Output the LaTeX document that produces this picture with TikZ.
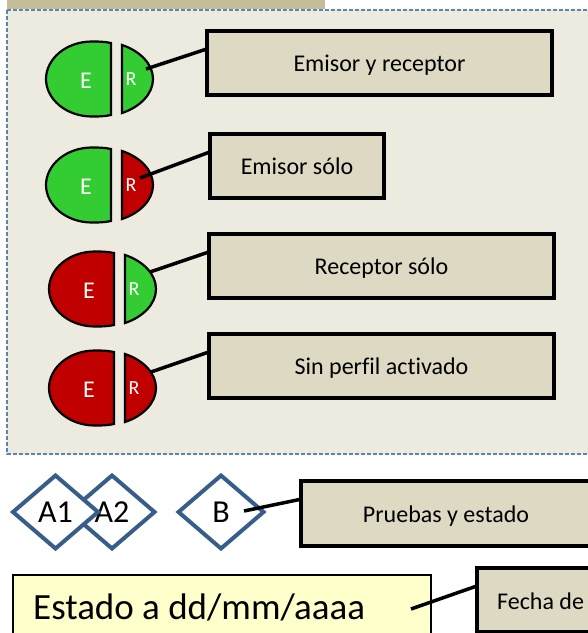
\documentclass[tikz,border=0pt]{standalone}
\usepackage{fontspec}
\setmainfont{Carlito}[RawFeature=-liga]
\usepackage{xcolor}
\usetikzlibrary{positioning,shapes.geometric,calc}
\definecolor{panelfill}{HTML}{EDEBE0}
\definecolor{tanband}{HTML}{C4BD97}
\definecolor{boxfill}{HTML}{DDD9C3}
\definecolor{dashblue}{HTML}{5B84B1}
\definecolor{diablue}{HTML}{385D8A}
\definecolor{noteyellow}{HTML}{FFFFCC}
\definecolor{okgreen}{HTML}{33CC33}
\definecolor{offred}{HTML}{C00000}

\begin{document}
\begin{tikzpicture}[
  x=1pt, y=-1pt,
  block/.style={draw, line width=3.5pt, fill=boxfill, anchor=north west, inner sep=0pt, outer sep=0pt, text height=20pt, text depth=3pt, font=\fontsize{24}{28}\selectfont},
  link/.style={line width=3.5pt, black},
  half/.style={draw, line width=2.2pt},
  perfil/.style={text=white, inner sep=0pt},
  rombo/.style={diamond, draw=diablue, line width=4pt, fill=white, aspect=1.15, inner sep=0pt, outer sep=0pt, minimum width=85pt, minimum height=73pt, font=\fontsize{32}{38}\selectfont}
]
\clip (0,0) rectangle (588,633);

% panel
\path[fill=tanband] (7,-5) rectangle (325,9);
\draw[dashblue, fill=panelfill, line width=1.2pt, dash pattern=on 4pt off 2pt] (7,10) rectangle (600,454);

% emisor / receptor pairs
\foreach \name/\cx/\cy/\colE/\colR in {pa/111/79/okgreen/okgreen, pb/111/185/okgreen/offred, pc/114/289/offred/okgreen, pd/114/388/offred/offred}{
  \begin{scope}[shift={(\cx,\cy)}]
    \draw[half, fill=\colE] (0,-36) .. controls (-7,-37.5) and (-13,-37.5) .. (-19,-37.5)
      .. controls (-45,-37.5) and (-65,-20) .. (-65,0)
      .. controls (-65,20) and (-45,37.5) .. (-19,37.5)
      .. controls (-13,37.5) and (-7,37.5) .. (0,36) -- cycle;
    \draw[half, fill=\colR] (11,-34) .. controls (29,-28) and (42,-15) .. (42,0)
      .. controls (42,15) and (29,28) .. (11,34) -- cycle;
    \node[perfil, font=\fontsize{24}{28}\selectfont] (\name-E) at (-25,2) {E};
    \node[perfil, font=\fontsize{20}{24}\selectfont] (\name-R) at (20,0) {R};
  \end{scope}
}

% boxes
\node[block, minimum width=345pt, minimum height=64pt] (emrec) at (207,31) {Emisor y receptor};
\node[block, minimum width=174pt, minimum height=64pt] (emsolo) at (210,134) {Emisor sólo};
\node[block, minimum width=345pt, minimum height=64pt] (recsolo) at (209,234) {Receptor sólo};
\node[block, minimum width=345pt, minimum height=64pt, below=36pt of recsolo] (sinperfil) {Sin perfil activado};
\node[block, minimum width=290pt, minimum height=65pt] (pruebas) at (301,481) {Pruebas y estado};
\node[block, minimum width=130pt, minimum height=64pt, align=left] (fechabox) at (477,568) {};
\node[inner sep=0pt, anchor=west, font=\fontsize{24}{28}\selectfont] (fecha) at (497,601) {Fecha de};

% diamonds
\node[rombo] (atwo) at (112,512) {A2};
\node[rombo] (aone) at (55.5,512) {A1};
\node[rombo] (bdia) at (221,512) {B};

% estado
\node[draw, line width=1.6pt, fill=noteyellow, anchor=north west, minimum width=418pt, minimum height=70pt, inner sep=0pt] (estado) at (12,574) {};
\node[inner sep=0pt, anchor=west, font=\fontsize{37}{43}\selectfont] (estadotxt) at (33,607) {Estado a dd/mm/aaaa};

% connectors
\coordinate (tipa) at (146,69);
\coordinate (tipb) at (140,178);
\coordinate (tipc) at (150,272);
\coordinate (tipd) at (151,372);
\coordinate (tipe) at (244,511);
\coordinate (tipf) at (411,609);
\draw[link] (tipa) -- ($(emrec.north west)!.28!(emrec.south west)$);
\draw[link] (tipb) -- ($(emsolo.north west)!.28!(emsolo.south west)$);
\draw[link] (tipc) -- ($(recsolo.north west)!.28!(recsolo.south west)$);
\draw[link] (tipd) -- ($(sinperfil.north west)!.28!(sinperfil.south west)$);
\draw[link] (tipe) -- ($(pruebas.north west)!.28!(pruebas.south west)$);
\draw[link] (tipf) -- ($(fechabox.north west)!.28!(fechabox.south west)$);
\end{tikzpicture}
\end{document}
